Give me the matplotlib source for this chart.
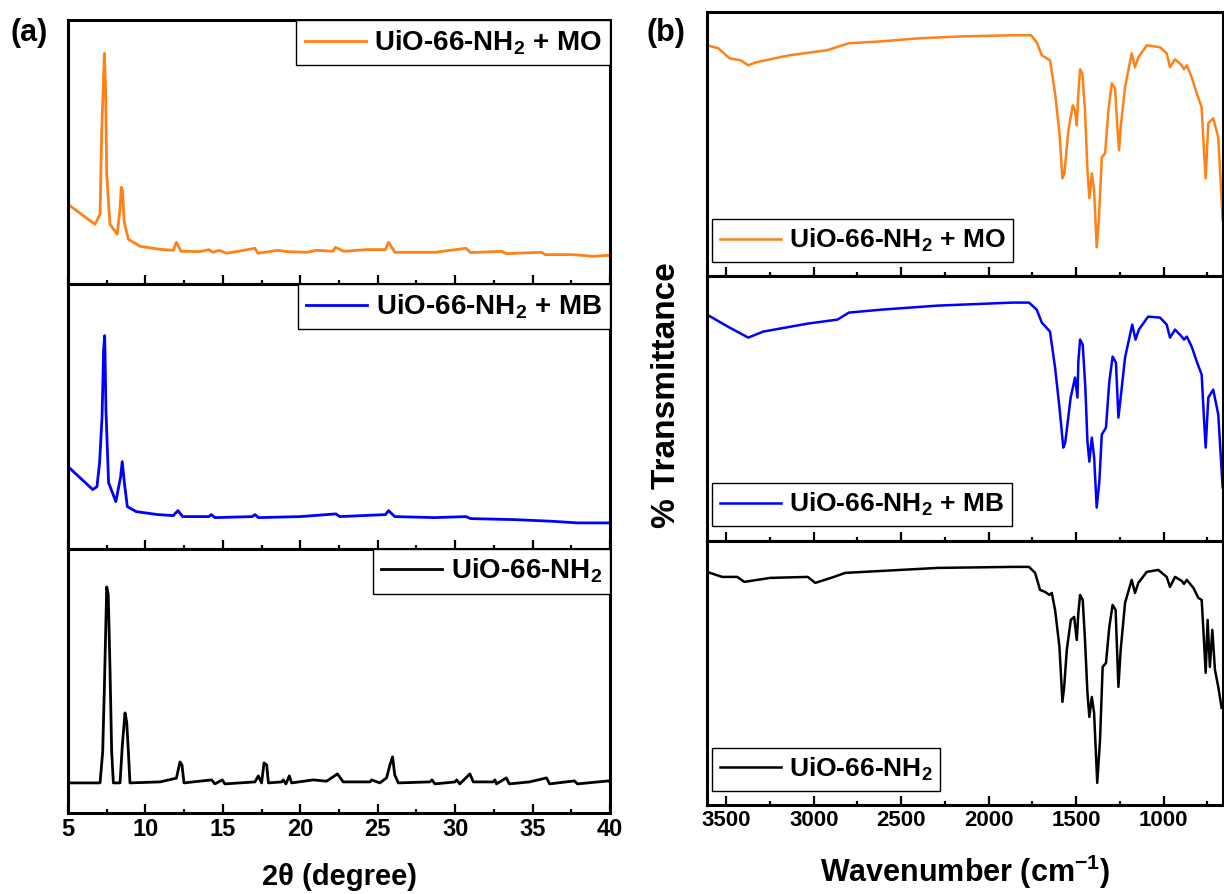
import matplotlib
matplotlib.use("Agg")
import matplotlib.pyplot as plt
from matplotlib.ticker import MultipleLocator

plt.rcParams['font.family'] = ['Liberation Sans', 'DejaVu Sans']
plt.rcParams['font.weight'] = 'bold'
plt.rcParams['axes.labelweight'] = 'bold'
plt.rcParams['mathtext.fontset'] = 'custom'
plt.rcParams['mathtext.rm'] = 'Liberation Sans:bold'
plt.rcParams['mathtext.bf'] = 'Liberation Sans:bold'
plt.rcParams['mathtext.it'] = 'Liberation Sans:bold'

# ---- (a) XRD, intensity in arbitrary units ----
xrd_mo_2theta = [5.0, 6.74, 7.07, 7.17, 7.35, 7.43,
                 7.5, 7.71, 8.18, 8.36, 8.44, 8.53,
                 8.62, 8.9, 9.65, 10.94, 11.8, 12.0,
                 12.3, 13.5, 14.1, 14.36, 14.75, 15.25,
                 17.07, 17.27, 18.56, 19.1, 20.4, 21.05,
                 22.1, 22.28, 22.8, 24.3, 25.5, 25.7,
                 26.0, 26.1, 28.7, 30.7, 31.0, 33.0,
                 33.3, 35.6, 35.8, 37.6, 38.9, 39.9,
                 40.0]
xrd_mo_int = [80, 60, 70, 150, 231, 193,
              110, 60, 50, 76, 97, 93,
              63, 45, 38, 35, 34, 42,
              33, 32.7, 34.7, 32, 34, 31,
              36, 31, 34, 32.7, 32, 34,
              33, 37, 33, 34.7, 34.7, 42,
              34.7, 32, 32, 36, 31.7, 33,
              30.7, 32, 29.7, 29.7, 28, 29,
              27.7]

xrd_mb_2theta = [5.0, 6.6, 6.87, 7.04, 7.2, 7.3,
                 7.37, 7.45, 7.62, 8.09, 8.4, 8.5,
                 8.64, 8.83, 9.4, 10.8, 11.8, 12.1,
                 12.4, 14.1, 14.25, 14.5, 16.9, 17.07,
                 17.3, 20.0, 22.3, 22.55, 25.5, 25.7,
                 26.1, 28.7, 30.7, 31.0, 33.8, 36.3,
                 37.9, 40.0]
xrd_mb_int = [82, 59, 62, 86, 132, 199,
              213, 139, 66, 47, 72, 87,
              66, 42, 37, 34, 33, 38,
              32, 32, 34, 31, 32, 34,
              31, 32, 34.7, 32, 34, 38,
              32, 31, 32, 30, 29, 27.3,
              25.7, 25.7]

xrd_pure_2theta = [5.0, 7.07, 7.24, 7.35, 7.5, 7.6,
                   7.71, 7.82, 7.93, 8.36, 8.51, 8.68,
                   8.79, 8.9, 9.0, 10.94, 12.0, 12.23,
                   12.36, 12.49, 14.27, 14.49, 14.96, 15.13,
                   17.07, 17.29, 17.5, 17.66, 17.83, 17.94,
                   18.8, 18.9, 19.07, 19.29, 19.44, 20.84,
                   21.7, 22.4, 22.77, 24.5, 24.6, 25.14,
                   25.57, 25.79, 25.96, 26.1, 26.33, 28.37,
                   28.5, 28.7, 30.0, 30.1, 30.3, 30.95,
                   31.17, 32.46, 32.57, 32.67, 33.3, 33.5,
                   34.8, 35.9, 36.1, 37.7, 37.9, 39.9,
                   40.0]
xrd_pure_int = [30, 30, 61, 126, 226, 218,
                145, 61, 30, 30, 68, 100,
                91, 61, 30, 31, 34.7, 51,
                48, 30, 33, 29, 33, 29,
                31, 37, 30, 50, 48, 30,
                31, 33, 29, 37, 30, 33,
                31.7, 39, 31, 31, 33, 30,
                35, 48, 56, 38, 30, 31,
                33, 29, 31, 33, 29, 39,
                31, 31, 33, 29, 35, 29,
                31, 35, 29, 32, 29, 32,
                31]

# ---- (b) FTIR, transmittance in arbitrary units ----
ir_mo_wn = [3610, 3545, 3481, 3417, 3374, 3331,
            3140, 2926, 2799, 2609, 2397, 2140,
            1863, 1757, 1725, 1696, 1649, 1620,
            1595, 1578, 1567, 1544, 1519, 1506,
            1496, 1487, 1477, 1464, 1449, 1435,
            1424, 1410, 1397, 1382, 1369, 1353,
            1334, 1315, 1296, 1277, 1264, 1254,
            1245, 1220, 1182, 1163, 1144, 1096,
            1020, 982, 963, 934, 896, 883,
            867, 839, 810, 782, 769, 759,
            744, 716, 687, 662]
ir_mo_t = [231, 228, 218, 216, 211, 214,
           221, 226, 233, 235, 238, 240,
           241, 241, 234, 221, 216, 183,
           143, 98, 103, 146, 171, 166,
           151, 183, 207, 203, 166, 106,
           78, 103, 86, 29, 59, 119,
           123, 166, 193, 188, 149, 126,
           149, 189, 223, 209, 219, 231,
           229, 223, 209, 217, 211, 207,
           211, 199, 183, 169, 126, 98,
           153, 158, 139, 56]

ir_mb_wn = [3610, 3481, 3374, 3289, 3034, 2864,
            2799, 2609, 2289, 1863, 1769, 1725,
            1696, 1649, 1620, 1595, 1573, 1562,
            1531, 1506, 1492, 1487, 1477, 1462,
            1447, 1435, 1424, 1410, 1397, 1382,
            1367, 1353, 1329, 1310, 1291, 1272,
            1258, 1245, 1220, 1179, 1160, 1141,
            1088, 1020, 982, 963, 934, 896,
            883, 867, 839, 810, 782, 769,
            759, 744, 716, 687, 662]
ir_mb_t = [226, 213, 203, 209, 217, 221,
           228, 231, 235, 238, 238, 231,
           218, 209, 173, 133, 93, 98,
           143, 163, 143, 179, 201, 196,
           153, 99, 79, 103, 84, 33,
           59, 106, 113, 159, 184, 178,
           123, 143, 183, 216, 201, 211,
           224, 223, 216, 203, 211, 204,
           201, 204, 194, 179, 166, 123,
           93, 143, 151, 126, 53]

ir_pure_wn = [3610, 3523, 3437, 3397, 3249, 3034,
              2991, 2884, 2820, 2609, 2289, 1863,
              1769, 1734, 1706, 1677, 1653, 1639,
              1620, 1595, 1578, 1568, 1553, 1530,
              1511, 1496, 1487, 1477, 1462, 1449,
              1435, 1424, 1410, 1397, 1379, 1363,
              1348, 1329, 1310, 1291, 1274, 1258,
              1245, 1220, 1182, 1163, 1144, 1096,
              1030, 982, 963, 934, 896, 883,
              867, 829, 801, 782, 769, 759,
              748, 735, 721, 706, 687, 668]
ir_pure_t = [233, 228, 228, 223, 227, 228,
             222, 228, 232, 234, 237, 238,
             238, 232, 215, 213, 210, 212,
             195, 158, 103, 118, 155, 185,
             188, 165, 192, 210, 205, 165,
             112, 88, 108, 92, 22, 65,
             138, 142, 178, 200, 195, 118,
             155, 202, 225, 212, 222, 233,
             235, 228, 218, 228, 224, 221,
             225, 217, 207, 205, 165, 132,
             185, 138, 175, 135, 118, 97]

labels = [r'UiO-66-NH$_2$ + MO', r'UiO-66-NH$_2$ + MB', r'UiO-66-NH$_2$']
colors = ['#FF8117', '#0000FF', 'black']

W, H = 1224, 894
fig = plt.figure(figsize=(W / 100, H / 100), dpi=100)

panel_h = 264.3
def style_axes(ax):
    for s in ax.spines.values():
        s.set_linewidth(2.2)
    ax.tick_params(axis='x', which='both', direction='in', top=False,
                   bottom=True, width=1.6, labelsize=17)
    ax.tick_params(axis='x', which='major', length=6.5)
    ax.tick_params(axis='x', which='minor', length=3.2)
    ax.set_yticks([])
    ax.set_ylim(0, panel_h)

# left panel (a)
xrd = [(xrd_mo_2theta, xrd_mo_int), (xrd_mb_2theta, xrd_mb_int),
       (xrd_pure_2theta, xrd_pure_int)]
for i, (xx, yy) in enumerate(xrd):
    top = 20 + i * panel_h
    ax = fig.add_axes([68 / W, 1 - (top + panel_h) / H, 542 / W, panel_h / H])
    ax.plot(xx, yy, color=colors[i], lw=2.0, label=labels[i])
    ax.set_xlim(5, 40)
    ax.xaxis.set_major_locator(MultipleLocator(5))
    ax.xaxis.set_minor_locator(MultipleLocator(2.5))
    style_axes(ax)
    leg = ax.legend(loc='upper right', borderaxespad=0, fontsize=20,
                    handlelength=2.2, handletextpad=0.3, borderpad=0.3,
                    fancybox=False, framealpha=1, edgecolor='black')
    leg.get_frame().set_linewidth(1.0)
    if i < 2:
        ax.tick_params(axis='x', labelbottom=False)
    else:
        ax.set_xlabel('2θ (degree)', fontsize=21, labelpad=16)

# right panel (b)
ir = [(ir_mo_wn, ir_mo_t), (ir_mb_wn, ir_mb_t), (ir_pure_wn, ir_pure_t)]
for i, (xx, yy) in enumerate(ir):
    top = 12 + i * panel_h
    ax = fig.add_axes([707 / W, 1 - (top + panel_h) / H, 516 / W, panel_h / H])
    ax.plot(xx, yy, color=colors[i], lw=1.8, label=labels[i])
    ax.set_xlim(3610, 660)
    ax.xaxis.set_major_locator(MultipleLocator(500))
    ax.xaxis.set_minor_locator(MultipleLocator(250))
    style_axes(ax)
    ax.tick_params(axis='x', labelsize=16)
    leg = ax.legend(loc='lower left', bbox_to_anchor=(0.01, 0.054),
                    borderaxespad=0, fontsize=19, handlelength=2.3,
                    handletextpad=0.3, borderpad=0.3,
                    fancybox=False, framealpha=1, edgecolor='black')
    leg.get_frame().set_linewidth(1.0)
    if i < 2:
        ax.tick_params(axis='x', labelbottom=False)
    else:
        ax.set_xlabel(r'Wavenumber (cm$^{\mathbf{-1}}$)', fontsize=22,
                      labelpad=16)

fig.text(667 / W, 1 - 395 / H, '% Transmittance', rotation=90,
         fontsize=24, ha='center', va='center')
fig.text(10 / W, 1 - 33 / H, '(a)', fontsize=22, ha='left', va='center')
fig.text(647 / W, 1 - 33 / H, '(b)', fontsize=22, ha='left', va='center')

fig.savefig('out.png', dpi=100)
